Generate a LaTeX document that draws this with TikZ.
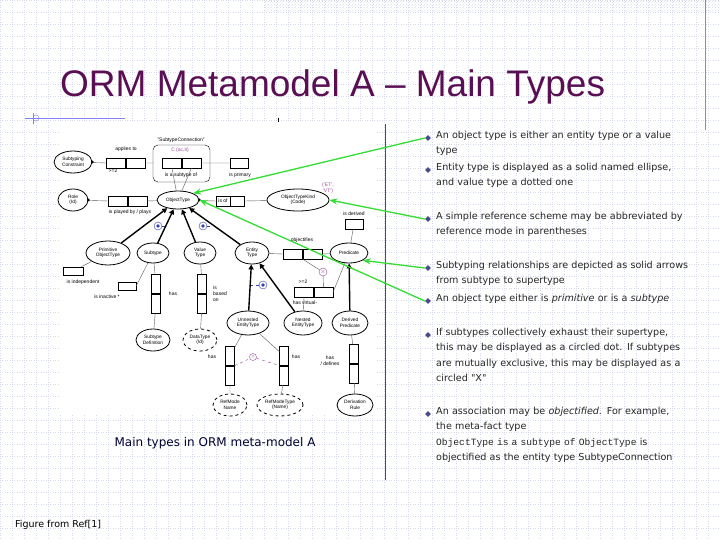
\documentclass[tikz,border=0pt]{standalone}
\usepackage{fontspec}
\setmainfont{Liberation Sans}
\newfontfamily\bodyf{DejaVu Sans}
\newfontfamily\monof{Liberation Mono}
\usetikzlibrary{shapes.geometric,arrows.meta,patterns,positioning}
\definecolor{titlec}{HTML}{5A0F55}
\definecolor{gridc}{HTML}{D5DAE8}
\definecolor{greenc}{HTML}{33DD33}
\definecolor{bulc}{HTML}{4A4A8A}
\definecolor{ormp}{HTML}{9A4A9A}
\definecolor{ormb}{HTML}{3344AA}
\tikzset{
 ent/.style={ellipse,draw,thick,inner sep=0pt,font=\fontsize{4.8}{5.5}\selectfont,align=center},
 val/.style={ent,dashed},
 rb/.style={draw,minimum width=19pt,minimum height=10pt,inner sep=0pt},
 rbv/.style={draw,minimum width=9pt,minimum height=19pt,inner sep=0pt},
 lab/.style={font=\fontsize{5}{6}\selectfont,inner sep=1pt,align=center},
 ln/.style={draw,gray!70!black,thin},
 sub/.style={draw,line width=1.4pt,-{Triangle[length=5pt,width=5pt]}},
 dotc/.style={circle,draw=ormb,fill=white,minimum size=8pt,inner sep=0pt,path picture={\fill[ormb](path picture bounding box.center) circle (1.8pt);}},
 grn/.style={draw=greenc,line width=1.3pt,-{Stealth[length=8pt,width=6pt]}},
 btxt/.style={anchor=north west,font=\bodyf\fontsize{9.6}{15.5}\selectfont,text width=252pt,align=left,inner sep=0pt,text=black!85,execute at begin node={\hyphenpenalty=10000\exhyphenpenalty=10000}},
 bul/.style={diamond,fill=bulc,minimum size=6pt,inner sep=0pt}
}
\begin{document}
\begin{tikzpicture}[x=1pt,y=-1pt]
\useasboundingbox (0,0) rectangle (720,540);
\fill[white] (0,0) rectangle (720,540);
\foreach \i in {0,12,...,720} \draw[gridc,dotted,thin] (\i,0)--(\i,540);
\foreach \j in {0,12,...,540} \draw[gridc,dotted,thin] (0,\j)--(720,\j);
\fill[pattern=crosshatch dots,pattern color=gridc] (265,0) rectangle (720,12);
\draw[gridc!60!blue,thick] (705,0)--(705,130);
\draw[gridc!60!blue] (25,118)--(125,118);
\draw[gridc!60!blue] (33,113)--(33,124);
\draw[gridc!60!blue] (36,118) circle (3pt);
\draw[black] (278,118)--(278,130);
\draw[black!70,thick] (385,124)--(385,480);
\node[anchor=base west,text=titlec,font=\fontsize{37}{40}\selectfont,inner sep=0pt] (title) at (60,97) {ORM Metamodel A -- Main Types};
% figure
\fill[white] (60,122) rectangle (375,415);
\node[ent,minimum width=38pt,minimum height=22pt] (sc) at (73,162) {Subtyping\\Constraint};
\node[rb] (ap1) at (116,163) {}; \node[rb,right=0pt of ap1] (ap2) {};
\node[lab] at (126,149) {applies to};
\node[lab] at (113,171) {>=2};
\draw[rounded corners=5pt] (153,145) rectangle (210,182);
\node[lab] at (181,140) {"SubtypeConnection"};
\node[rb] (sb1) at (172,163) {}; \node[rb,right=0pt of sb1] (sb2) {};
\node[lab,text=ormp] at (180,150) {C (ac,it)};
\node[lab] at (181,175) {is a subtype of};
\node[rb,minimum width=18pt] (ip) at (239,163) {};
\node[lab] at (240,175) {is primary};
\node[ent,minimum width=30pt,minimum height=22pt] (role) at (73,200) {Role\\(Id)};
\node[rb] (pl1) at (118,201) {}; \node[rb,right=0pt of pl1] (pl2) {};
\node[lab] at (130,212) {is played by / plays};
\node[ent,minimum width=42pt,minimum height=18pt] (ot) at (178,200) {ObjectType};
\node[rb,minimum width=14pt,font=\fontsize{5}{6}\selectfont] (io1) at (223,201) {is of}; \node[rb,minimum width=14pt,right=0pt of io1] (io2) {};
\node[ent,minimum width=62pt,minimum height=22pt] (otk) at (298,200) {ObjectTypeKind\\(Code)};
\node[lab,text=ormp] at (328,188) {('ET',\\'VT')};
\node[rb,minimum width=18pt] (der) at (354,224) {};
\node[lab] at (354,214) {is derived};
\node[ent,minimum width=44pt,minimum height=24pt] (prim) at (108,253) {Primitive\\ObjectType};
\node[ent,minimum width=32pt,minimum height=20pt] (subt) at (153,253) {Subtype};
\node[ent,minimum width=32pt,minimum height=22pt] (vt) at (200,253) {Value\\Type};
\node[ent,minimum width=34pt,minimum height=22pt] (et) at (252,253) {Entity\\Type};
\node[rb] (ob1) at (293,254) {}; \node[rb,right=0pt of ob1] (ob2) {};
\node[lab] at (302,240) {objectifies};
\node[ent,minimum width=38pt,minimum height=20pt] (pred) at (349,253) {Predicate};
\node[dotc] (d1) at (158,226) {};
\node[dotc] (d2) at (203,226) {};
\node[dotc] (d3) at (263,285) {};
\node[circle,draw=ormp,minimum size=8pt,inner sep=0pt,font=\fontsize{6}{6}\selectfont,text=ormp] (xc) at (323,272) {$\times$};
\node[rb,minimum width=20pt,minimum height=8pt] (ind) at (73,271) {};
\node[lab] at (83,282) {is independent};
\node[rb,minimum width=18pt,minimum height=8pt] (ina) at (127,286) {};
\node[lab] at (107,297) {is inactive *};
\node[rbv] (sh1) at (156,284) {}; \node[rbv,below=0pt of sh1] (sh2) {};
\node[lab] at (173,294) {has};
\node[rbv] (vb1) at (202,284) {}; \node[rbv,below=0pt of vb1] (vb2) {};
\node[lab,align=left] at (220,294) {is\\based\\on};
\node[ent,minimum width=34pt,minimum height=22pt] (sdef) at (153,340) {Subtype\\Definition};
\node[val,minimum width=34pt,minimum height=22pt] (dt) at (200,340) {DataType\\(Id)};
\node[ent,minimum width=42pt,minimum height=24pt] (un) at (248,323) {Unnested\\EntityType};
\node[ent,minimum width=38pt,minimum height=24pt] (ne) at (303,323) {Nested\\EntityType};
\node[ent,minimum width=36pt,minimum height=24pt] (dp) at (350,323) {Derived\\Predicate};
\node[rb] (hv1) at (304,292) {}; \node[rb,right=0pt of hv1] (hv2) {};
\node[lab] at (303,282) {>=2};
\node[lab] at (305,303) {has virtual-};
\node[rbv] (uh1) at (230,356) {}; \node[rbv,below=0pt of uh1] (uh2) {};
\node[lab] at (212,357) {has};
\node[rbv] (rh1) at (284,356) {}; \node[rbv,below=0pt of rh1] (rh2) {};
\node[lab] at (296,357) {has};
\node[rbv] (dh1) at (354,354) {}; \node[rbv,below=0pt of dh1] (dh2) {};
\node[lab] at (330,361) {has\\/ defines};
\node[circle,draw=ormp,minimum size=7pt,inner sep=0pt,font=\fontsize{5}{5}\selectfont,text=ormp] (eq) at (253,357) {=};
\node[val,minimum width=34pt,minimum height=22pt] (rmn) at (230,405) {RefMode\\Name};
\node[val,minimum width=46pt,minimum height=22pt] (rmt) at (280,405) {RefModeType\\(Name)};
\node[ent,minimum width=36pt,minimum height=22pt] (dr) at (355,405) {Derivation\\Rule};
% thin lines
\path[ln] (sc)--(ap1.west) (ap2.east)--(153,163) (sb2.east)--(ip.west)
 (role)--(pl1.west) (pl2.east)--(ot) (ot)--(io1.west) (io2.east)--(otk)
 (sb1.south)--(ot) (sb2.south)--(ot) (der)--(pred)
 (et)--(ob1.west) (ob2.east)--(pred) (ob2.south west)--(xc) (xc)--(hv2.north)
 (prim)--(ind) (subt)--(ina.east) (subt)--(sh1) (sh2)--(sdef) (vt)--(vb1) (vb2)--(dt)
 (hv1.south)--(ne) (hv2.east)--(pred) (un)--(uh1) (uh2)--(rmn) (un)--(rh1) (rh2)--(rmt)
 (dp)--(dh1) (dh2)--(dr);
\draw[ormp,dashed,thin] (uh1.south east)--(eq)--(rh1.south west);
\draw[ormb,dashed,thin] (d1)--(166,226) (d2)--(211,226) (d3)--(250,285);
\fill (ot.east) circle (1.5pt); \fill (role.east) circle (1.5pt); \fill (sc.east) circle (1.5pt);
% subtype arrows
\path[sub] (prim)--(ot); \path[sub] (subt)--(ot); \path[sub] (vt)--(ot); \path[sub] (et)--(ot);
\path[sub] (un)--(et); \path[sub] (ne)--(et); \path[sub] (dp)--(pred);
\node[font=\bodyf\fontsize{12}{14}\selectfont,text=black!80!blue] (cap) at (215,443) {Main types in ORM meta-model A};
\node[anchor=base west,font=\bodyf\fontsize{9.5}{11}\selectfont,inner sep=0pt] (ref) at (15,527) {Figure from Ref[1]};
% bullets
\foreach \y/\n in {138/b1,170/b2,219/b3,268/b4,301/b5,335/b6,414/b7} \node[bul] (\n) at (428,\y) {};
\node[btxt] at (436,131) {An object type is either an entity type or a value type};
\node[btxt] at (436,163) {Entity type is displayed as a solid named ellipse, and value type a dotted one};
\node[btxt] at (436,212) {A simple reference scheme may be abbreviated by reference mode in parentheses};
\node[btxt] at (436,261) {Subtyping relationships are depicted as solid arrows from subtype to supertype};
\node[btxt] at (436,294) {An object type either is \textit{primitive} or is a \textit{subtype}};
\node[btxt] at (436,328) {If subtypes collectively exhaust their supertype, this may be displayed as a circled dot. If subtypes are mutually exclusive, this may be displayed as a circled "X"};
\node[btxt] at (436,407) {An association may be \textit{objectified}. For example, the meta-fact type\\{\monof ObjectType is a subtype of ObjectType} is objectified as the entity type SubtypeConnection};
% green arrows
\draw[grn] (b1.west)--(ot.north east);
\draw[grn] (b3.west)--(otk.east);
\draw[grn] (b4.west)--(pred.south east);
\draw[grn] (b5.west)--(ot.east);
\end{tikzpicture}
\end{document}
